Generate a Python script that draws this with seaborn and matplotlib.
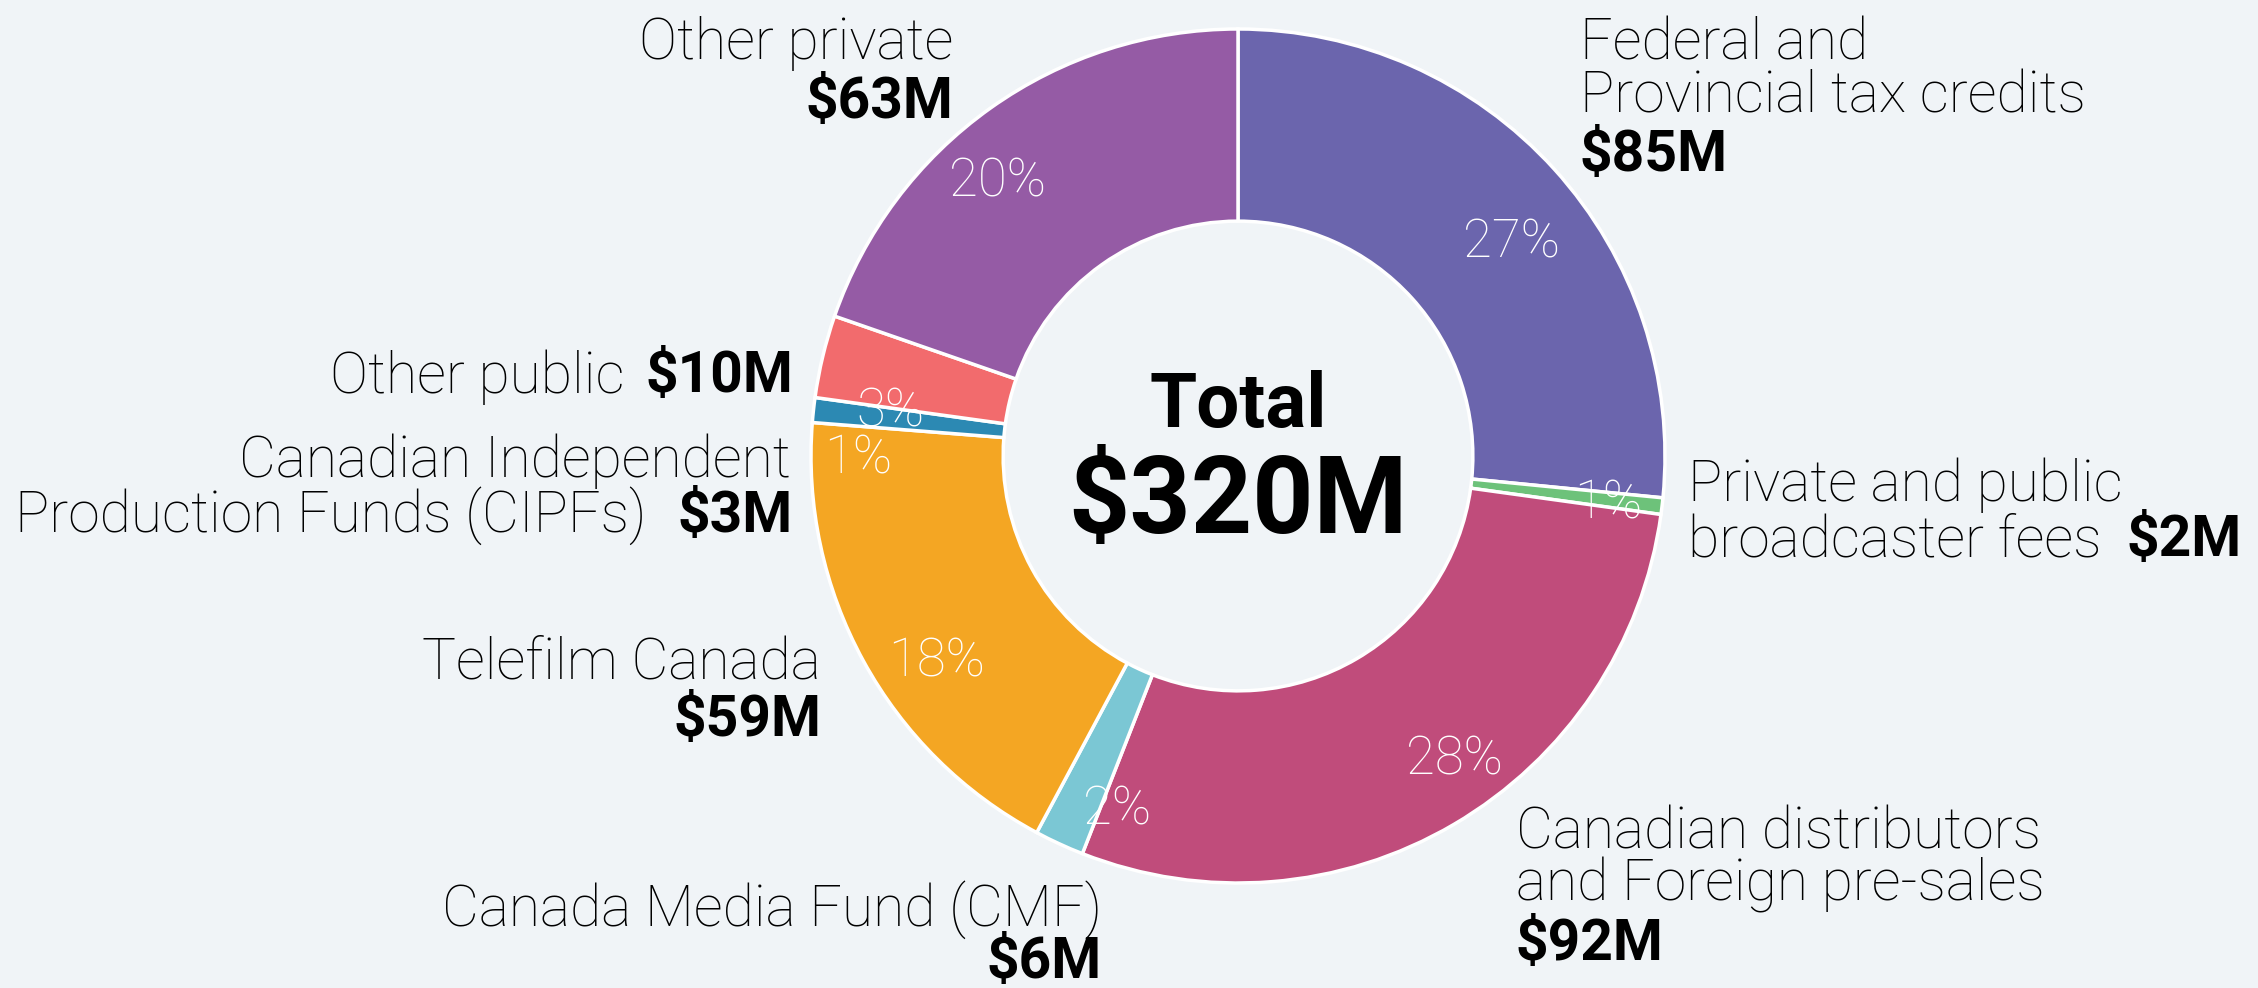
import matplotlib
matplotlib.use("Agg")
import matplotlib.pyplot as plt
import seaborn as sns
import numpy as np

categories = ["Federal and\nProvincial tax credits", "Private and public\nbroadcaster fees",
              "Canadian distributors\nand Foreign pre-sales", "Canada Media Fund (CMF)",
              "Telefilm Canada", "Canadian Independent\nProduction Funds (CIPFs)",
              "Other public", "Other private"]
values = [85, 2, 92, 6, 59, 3, 10, 63]
amount_labels = ["$85M", "$2M", "$92M", "$6M", "$59M", "$3M", "$10M", "$63M"]
pct_labels = ["27%", "1%", "28%", "2%", "18%", "1%", "3%", "20%"]
total_label = "$320M"
colors = ["#6B65AD", "#6DC27A", "#C04C7B", "#7BC7D4", "#F4A623", "#2C89B3", "#F26B6D", "#955BA5"]

# layout (pixel positions of the percentage texts, from top-left)
pct_pos = [(1511, 237), (1608, 498), (1454, 754), (1117, 804),
           (937, 656), (858, 453), (890, 406), (997, 176)]

sns.set_theme(style="white")
plt.rcParams['font.family'] = ['Roboto', 'DejaVu Sans']
BG = "#F0F4F7"

W, H = 2258, 988
fig = plt.figure(figsize=(W / 100, H / 100), dpi=100, facecolor=BG)
ax = fig.add_axes([0, 0, 1, 1])
ax.set_facecolor(BG)

cx, cy, R = 1238, H - 456, 427
palette = sns.color_palette(colors)
wedges, _ = ax.pie(values, colors=palette, startangle=90, counterclock=False,
                   center=(cx, cy), radius=R,
                   wedgeprops=dict(width=R * 0.45, edgecolor="white", linewidth=2.5),
                   frame=True)
ax.set_xlim(0, W)
ax.set_ylim(0, H)
ax.set_aspect("equal")
ax.axis("off")

for (px, py), p in zip(pct_pos, pct_labels):
    ax.text(px, H - py, p, color="white", fontsize=38, fontweight="light",
            ha="center", va="center_baseline")

ax.text(cx, H - 407, "Total", fontsize=55, fontweight="bold", ha="center", va="center", color="black")
ax.text(cx, H - 504, total_label, fontsize=77, fontweight="bold", ha="center", va="center", color="black")

fs = 41
def lab(x, y, s, ha, bold=False):
    ax.text(x, H - y - 5, s, fontsize=fs, ha=ha, va="center", color="black",
            fontweight="bold" if bold else "light")

# Federal
lab(1580, 39, "Federal and", "left")
lab(1580, 92, "Provincial tax credits", "left")
lab(1580, 151, amount_labels[0], "left", True)
# Private and public broadcaster
lab(1688, 480, "Private and public", "left")
lab(1688, 536, "broadcaster fees", "left")
lab(2242, 536, amount_labels[1], "right", True)
# Canadian distributors
lab(1516, 828, "Canadian distributors", "left")
lab(1516, 880, "and Foreign pre-sales", "left")
lab(1516, 940, amount_labels[2], "left", True)
# CMF
lab(1102, 905, "Canada Media Fund (CMF)", "right")
lab(1102, 957, amount_labels[3], "right", True)
# Telefilm
lab(821, 658, "Telefilm Canada", "right")
lab(821, 716, amount_labels[4], "right", True)
# CIPFs
lab(791, 456, "Canadian Independent", "right")
lab(793, 511, amount_labels[5], "right", True)
lab(646, 511, "Production Funds (CIPFs)", "right")
# Other public
lab(793, 372, amount_labels[6], "right", True)
lab(625, 372, "Other public", "right")
# Other private
lab(953, 39, "Other private", "right")
lab(953, 98, amount_labels[7], "right", True)

fig.savefig("out.png", dpi=100, facecolor=BG)
